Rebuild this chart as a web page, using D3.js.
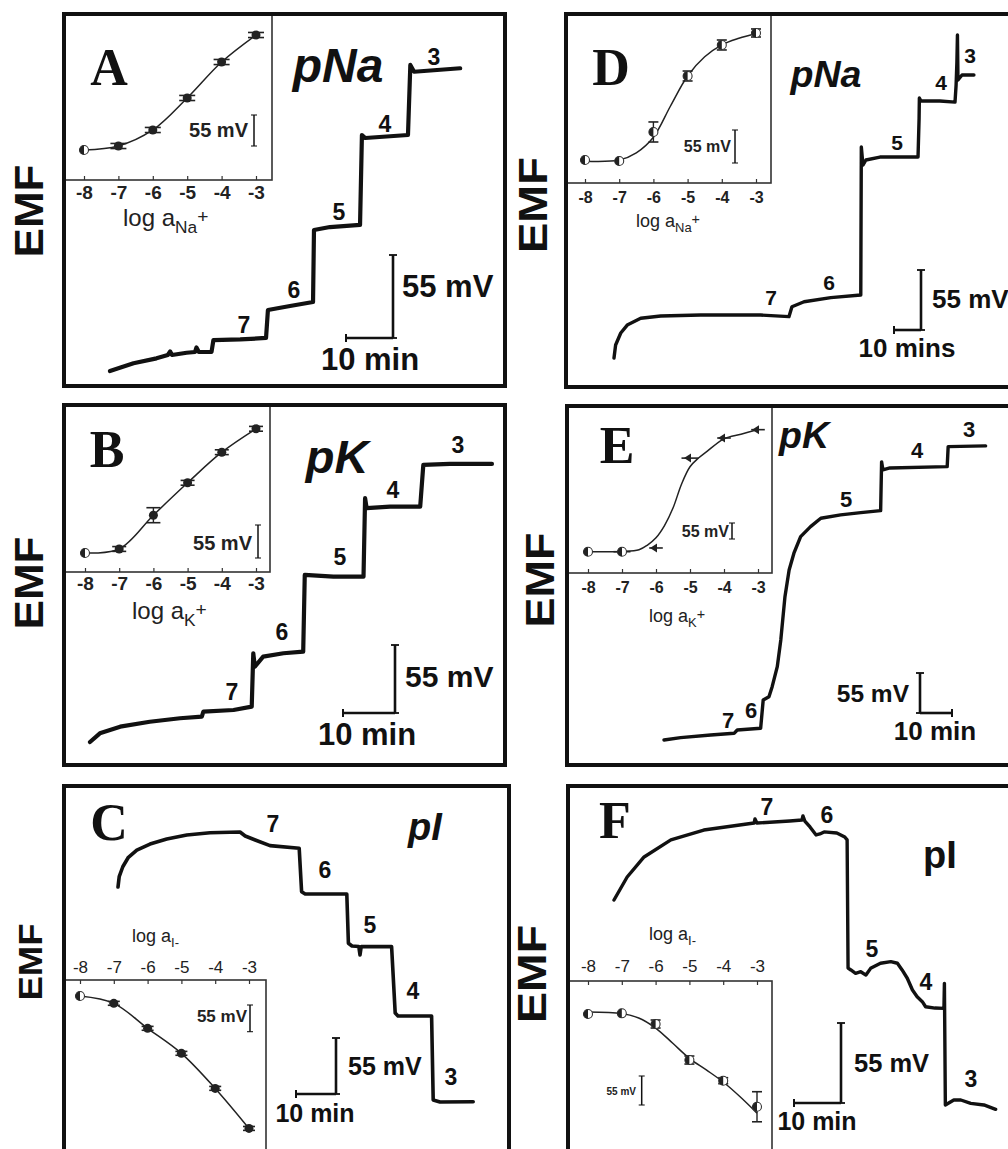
<!DOCTYPE html>
<html>
<head>
<meta charset="utf-8">
<script src="https://cdn.jsdelivr.net/npm/d3@7"></script>
<style>
  body { margin: 0; background: #fff; }
  svg { display: block; }
</style>
</head>
<body>
<svg id="fig" width="1008" height="1149"></svg>
<script>
// ---- data -------------------------------------------------------------
// log activity values used on every calibration inset
const logActivity = [-8, -7, -6, -5, -4, -3];
// p-values written beside the steps of each time trace
const stepNames = ["7", "6", "5", "4", "3"];

// time traces: [time (min), EMF (mV) relative to the start of the record]
const traceNa1 = [[0,0],[5.0,5.1],[9.9,8.4],[12.3,10.6],[12.8,12.9],[13.2,10.6],[16.3,12.1],[18.1,12.6],[18.4,15.6],[18.9,12.6],[21.6,12.6],[22.0,20.5],[27.7,20.9],[33.2,21.9],[33.6,40.4],[38.3,43.1],[43.2,45.7],[43.4,93.4],[46.8,95.4],[53.2,96.8],[53.6,156.4],[54.3,154.4],[63.4,156.4],[63.9,202.8],[64.7,198.3],[74.5,200.6]];
const traceK1 = [[0,0],[1.9,7.0],[5.8,12.4],[11.5,16.4],[17.3,19.2],[21.5,20.5],[21.8,24.5],[27.6,25.9],[31.1,28.6],[31.4,71.8],[31.7,60.9],[33.3,69.0],[37.2,71.8],[41.0,73.1],[41.3,135.1],[46.8,133.7],[52.6,133.7],[52.9,197.2],[53.2,189.1],[57.7,190.4],[63.5,190.4],[64.1,224.1],[69.2,224.9],[77.3,224.9]];
const traceI1 = [[0,0],[0.3,10.1],[1.2,19.9],[2.6,29.2],[4.7,36.3],[8,42.2],[12.2,47.2],[17.2,51.1],[23,53.3],[30.5,54.0],[31.8,50.1],[34.3,46.2],[38,40.6],[45.3,38.0],[45.9,-4.6],[46.8,-6.9],[57.2,-6.9],[57.6,-55.3],[58.5,-58.0],[60.2,-58.5],[60.5,-66.8],[60.8,-58.5],[68.4,-58.6],[69.3,-123.8],[70,-126.7],[78.4,-126.7],[78.8,-209.2],[80.5,-211.2],[88.8,-210.9]];
const traceNa2 = [[0,0],[0.6,11.9],[2.5,22.9],[4.9,30.2],[9.9,36.4],[17.3,38.5],[32.1,39.4],[54.3,39.4],[64.8,37.9],[65.9,47.0],[70.4,51.6],[80.3,55.3],[91.4,57.7],[91.6,193.4],[92.2,176.9],[93.3,181.5],[98.5,184.2],[112.6,184.2],[113.0,219.9],[113.1,238.3],[113.7,235.6],[120.7,235.6],[126.3,234.6],[126.7,250.2],[127.0,271.3],[127.2,296.1],[127.4,254.8],[128.9,259.4],[133.3,259.4]];
const traceK2 = [[0,0],[5.2,3.2],[14.6,6.9],[21.9,9.2],[22.9,13.8],[30.2,16.1],[31.0,55.0],[32.8,59.6],[33.8,73.3],[35.4,100.8],[36.5,137.6],[37.8,197.1],[39.1,233.8],[40.6,256.8],[42.7,279.7],[45.8,293.4],[49.0,304.9],[55.2,309.5],[61.5,312.7],[67.7,315.4],[68.0,382.4],[68.4,371.4],[70.6,374.1],[88.5,375.9],[88.8,403.4],[100.5,404.4]];
const traceI2 = [[0,0],[2.8,15.8],[6.4,29.6],[12.1,41.3],[19.1,48.1],[29.8,52.9],[30.0,55.7],[30.4,52.9],[37.4,54.3],[40.0,55.0],[40.2,57.8],[40.6,54.3],[41.7,50.2],[43.0,44.7],[43.8,45.4],[44.7,46.8],[47.4,46.1],[49.1,43.3],[49.6,41.3],[49.8,-46.8],[50.4,-48.1],[51.4,-50.4],[52.5,-49.3],[53.6,-51.6],[54.6,-47.0],[56.7,-43.5],[58.9,-42.4],[60.3,-43.5],[61.3,-48.1],[62.4,-53.8],[63.5,-61.9],[64.5,-66.5],[65.6,-69.9],[66.3,-73.4],[68.3,-74.3],[70.2,-74.5],[70.3,-57.3],[70.5,-140.9],[72.3,-137.5],[73.8,-137.5],[75.9,-139.8],[78.7,-140.9],[81.2,-143.9]];

// calibration insets: mean EMF (mV, relative to log a = -8) and spread
const calNa1 = [0, 7.1, 35.5, 92.3, 156.1, 204.0];
const calNa1Err = [0, 4.5, 4.5, 4.5, 4.5, 4.5];
const calK1 = [0, 6.7, 63, 117, 168, 207];
const calK1Err = [0, 4, 12.5, 4, 4, 4];
const calI1 = [0, -15.1, -66.6, -118.1, -190.3, -272.8];
const calI1Err = [0, 4, 4, 4, 4, 4];
const calNa2 = [0, -1.7, 46.7, 140, 191.7, 211.7];
const calNa2Err = [0, 0, 16.7, 8.3, 8.3, 6.7];
const calK2 = [0, 0, 12.8, 321.7, 390.8, 419.5];
const calK2ErrLog = [0, 0.25, 0.2, 0.25, 0.2, 0.2];   // spread along log a
const calI2 = [0, 1.3, -19, -87.3, -126.5, -175.9];
const calI2Err = [0, 0, 7.6, 7.6, 5.7, 28.5];

// fitted response curves: [log a, EMF (mV)]
const fitNa2 = [[-8,-2],[-7,0],[-6.5,12],[-6,38],[-5.5,90],[-5,140],[-4.5,172],[-4,192],[-3.5,203],[-3,211]];
const fitK2 = [[-8,0],[-7,1],[-6.5,7],[-6.25,23],[-6,48],[-5.75,90],[-5.5,150],[-5.25,232],[-5,292],[-4.75,322],[-4.5,345],[-4,388],[-3.5,404],[-3,420]];
const fitI2 = [[-8,4],[-7,1],[-6.5,-7.6],[-6,-26.6],[-5.5,-55],[-5,-84],[-4.5,-106],[-4,-129],[-3.5,-157],[-3,-188]];

// ---- layout ------------------------------------------------------------
const SANS = "'Liberation Sans', Arial, Helvetica, sans-serif";
const SERIF = "'Liberation Serif', 'Times New Roman', serif";
const INK = "#111";

const panels = [
  { letter: ["A", 109, 85], title: ["pNa", 338, 82, 48, true], emf: [29, 211, 93, 40],
    box: [64, 14, 505, 386], trace: traceNa1, x0: 110, y0: 371, barX: 47, barY: 83, lw: 4.2,
    bar: [393, 338, -1], steps: [[244,333],[294,298],[339,220],[385,132],[434,65]], stepSize: 23,
    mv: [402, 297, 31, "start"], min: ["10 min", 370, 370, 31],
    inset: { box: [64, 14, 272, 180], xr: [84, 256], y0: 150, bar: 31, side: "bottom", tickSize: 19, tickBase: 199, tickWeight: 600,
      mean: calNa1, err: calNa1Err, mark: "filled", capW: 16, sbar: [254, 146], stext: [248, 137, 20],
      log: [123, 226, 24, "Na", "+"] } },
  { letter: ["B", 107, 467], title: ["pK", 337, 473, 47, true], emf: [29, 583, 93, 40],
    box: [64, 405, 505, 765], trace: traceK1, x0: 90, y0: 742, barX: 52, barY: 68, lw: 4.2,
    bar: [395, 713, -1], steps: [[232,700],[282,640],[340,565],[393,498],[458,453]], stepSize: 23,
    mv: [405, 687, 30, "start"], min: ["10 min", 367, 745, 31],
    inset: { box: [64, 405, 270, 572], xr: [85, 256], y0: 553, bar: 33, side: "bottom", tickSize: 19, tickBase: 590, tickWeight: 600,
      mean: calK1, err: calK1Err, mark: "filled", capW: 14, sbar: [258, 558], stext: [252, 550, 20],
      log: [132, 619, 24, "K", "+"] } },
  { letter: ["C", 109, 840], title: ["pI", 425, 840, 38, true], emf: [30, 962, 77, 34],
    box: [64, 786, 509, 1170], trace: traceI1, x0: 118, y0: 887, barX: 40, barY: 56, lw: 3.6,
    bar: [336, 1094, -1], steps: [[273,832],[325,878],[370,933],[413,999],[451,1085]], stepSize: 23,
    mv: [348, 1075, 25, "start"], min: ["10 min", 315, 1122, 25],
    inset: { box: [64, 980, 266, 1170], xr: [80, 249], y0: 996, bar: 26.7, side: "top", tickSize: 17, tickBase: 973, tickWeight: 400,
      mean: calI1, err: calI1Err, mark: "filled", capW: 12, sbar: [250, 1031.7], stext: [247, 1022, 17],
      log: [132, 942, 18, "I-", ""] } },
  { letter: ["D", 611, 85], title: ["pNa", 826, 87, 37.6, true], emf: [533, 205, 96, 40],
    box: [566, 14, 1015, 387], trace: traceNa2, x0: 614, y0: 358, barX: 27, barY: 60, lw: 3.4,
    bar: [921, 330, -1], steps: [[771,305],[829,290],[897,150],[941,90],[970,63]], stepSize: 21,
    mv: [932, 308, 26, "start"], min: ["10 mins", 907, 357, 26],
    inset: { box: [566, 14, 771, 183], xr: [585, 756], y0: 160, bar: 33, side: "bottom", tickSize: 16, tickBase: 203, tickWeight: 600,
      mean: calNa2, err: calNa2Err, fit: fitNa2, mark: "half", capW: 10, sbar: [735, 163], stext: [731, 152, 16],
      log: [636, 227, 18, "Na", "+"] } },
  { letter: ["E", 617, 463], title: ["pK", 804, 448, 37.5, true], emf: [540, 580, 95, 40],
    box: [567, 406, 1015, 765], trace: traceK2, x0: 664, y0: 740, barX: 32, barY: 40, lw: 3.4,
    bar: [920, 713, 1], steps: [[728,728],[751,718],[846,507],[917,458],[969,437]], stepSize: 22,
    mv: [909, 702, 24.5, "end"], min: ["10 min", 935, 740, 26],
    inset: { box: [567, 406, 772, 573], xr: [588, 758], y0: 551.7, bar: 16, side: "bottom", tickSize: 16, tickBase: 593, tickWeight: 600,
      mean: calK2, xerr: calK2ErrLog, fit: fitK2, mark: "arrow", capW: 6, sbar: [732, 539], stext: [729, 537, 16],
      log: [649, 622, 18, "K", "+"] } },
  { letter: ["F", 615, 838], title: ["pI", 940, 868, 38, false], emf: [532, 974, 98, 40],
    box: [568, 786, 1015, 1170], trace: traceI2, x0: 614, y0: 900, barX: 47, barY: 80, lw: 3.4,
    bar: [841, 1103, -1], steps: [[767,815],[827,823],[872,957],[926,990],[971,1087]], stepSize: 23,
    mv: [854, 1072, 25.5, "start"], min: ["10 min", 817, 1130, 25],
    inset: { box: [568, 981, 772, 1170], xr: [588, 757], y0: 1014, bar: 29, side: "top", tickSize: 17, tickBase: 972, tickWeight: 400,
      mean: calI2, err: calI2Err, fit: fitI2, mark: "half", capW: 10, sbar: [641.7, 1105], stext: [636, 1095, 10],
      log: [649, 940, 18, "I-", ""] } }
];

const svg = d3.select("#fig");

function txt(g, s, x, y, size, opts = {}) {
  const t = g.append("text")
    .attr("x", x).attr("y", y)
    .attr("font-family", opts.family || SANS)
    .attr("font-size", size)
    .attr("font-weight", opts.weight || "bold")
    .attr("font-style", opts.italic ? "italic" : "normal")
    .attr("text-anchor", opts.anchor || "middle")
    .attr("fill", opts.fill || INK)
    .text(s);
  return t;
}

// vertical scale bar with small end caps
function vBar(g, x, yBottom, len, cap, w) {
  g.append("line").attr("x1", x).attr("x2", x).attr("y1", yBottom).attr("y2", yBottom - len)
    .attr("stroke", INK).attr("stroke-width", w);
  [yBottom, yBottom - len].forEach(yy => g.append("line")
    .attr("x1", x - cap / 2).attr("x2", x + cap / 2).attr("y1", yy).attr("y2", yy)
    .attr("stroke", INK).attr("stroke-width", Math.max(1, w * 0.7)));
}

function drawInset(g, ins) {
  const [bx1, by1, bx2, by2] = ins.box;
  const xs = d3.scaleLinear().domain([-8, -3]).range(ins.xr);
  const ys = d3.scaleLinear().domain([0, 55]).range([ins.y0, ins.y0 - ins.bar]);

  g.append("rect").attr("x", bx1).attr("y", by1).attr("width", bx2 - bx1).attr("height", by2 - by1)
    .attr("fill", "#fff").attr("stroke", "#333").attr("stroke-width", 1.6);

  // log a axis
  const fs = ins.tickSize;
  const axis = (ins.side === "bottom" ? d3.axisBottom(xs) : d3.axisTop(xs))
    .tickValues(logActivity).tickFormat(d => String(d))
    .tickSizeInner(-4).tickSizeOuter(0);
  if (ins.side === "bottom") axis.tickPadding(ins.tickBase - by2 - 0.71 * fs);
  else axis.tickPadding(by1 - ins.tickBase);
  const ag = g.append("g").attr("transform", `translate(0,${ins.side === "bottom" ? by2 : by1})`).call(axis);
  ag.select(".domain").remove();
  ag.selectAll(".tick line").attr("stroke", "#333").attr("stroke-width", 1.2);
  ag.selectAll(".tick text").attr("font-family", SANS).attr("font-size", fs)
    .attr("font-weight", ins.tickWeight).attr("fill", "#222");

  // response curve
  const curvePts = ins.fit ? ins.fit : logActivity.map((v, i) => [v, ins.mean[i]]);
  g.append("path")
    .attr("d", d3.line().x(d => xs(d[0])).y(d => ys(d[1])).curve(d3.curveCatmullRom.alpha(0.5))(curvePts))
    .attr("fill", "none").attr("stroke", "#222").attr("stroke-width", 1.5);

  // calibration points
  logActivity.forEach((v, i) => {
    const cx = xs(v), cy = ys(ins.mean[i]);
    if (ins.err && ins.err[i] > 0) {
      const yTop = ys(ins.mean[i] + ins.err[i]), yBot = ys(ins.mean[i] - ins.err[i]);
      g.append("line").attr("x1", cx).attr("x2", cx).attr("y1", yTop).attr("y2", yBot)
        .attr("stroke", "#222").attr("stroke-width", 1.4);
      [yTop, yBot].forEach(yy => g.append("line")
        .attr("x1", cx - ins.capW / 2).attr("x2", cx + ins.capW / 2).attr("y1", yy).attr("y2", yy)
        .attr("stroke", "#222").attr("stroke-width", 1.6));
    }
    if (ins.xerr && ins.xerr[i] > 0) {
      g.append("line").attr("x1", xs(v - ins.xerr[i])).attr("x2", xs(v + ins.xerr[i]))
        .attr("y1", cy).attr("y2", cy).attr("stroke", "#222").attr("stroke-width", 1.6);
    }
    const r = 4.5;
    if (ins.mark === "filled" && i > 0) {
      g.append("circle").attr("cx", cx).attr("cy", cy).attr("r", r).attr("fill", "#222");
    } else if (ins.mark === "arrow" && i > 1) {
      g.append("path").attr("d", `M${cx - 6},${cy}L${cx + 1},${cy - 4.5}L${cx + 1},${cy + 4.5}Z`).attr("fill", "#222");
    } else {
      g.append("circle").attr("cx", cx).attr("cy", cy).attr("r", r)
        .attr("fill", "#fff").attr("stroke", "#333").attr("stroke-width", 1.1);
      g.append("path").attr("d", `M${cx},${cy - r}A${r},${r} 0 0 0 ${cx},${cy + r}Z`).attr("fill", "#222");
    }
  });

  // 55 mV bar
  vBar(g, ins.sbar[0], ins.sbar[1], ys(0) - ys(55), 6, 1.5);
  txt(g, "55 mV", ins.stext[0], ins.stext[1], ins.stext[2], { anchor: "end", weight: 600, fill: "#222" });

  // log a label with subscript
  const [lx, ly, lfs, sub, sup] = ins.log;
  const lt = g.append("text").attr("x", lx).attr("y", ly)
    .attr("font-family", SANS).attr("font-size", lfs).attr("font-weight", 500).attr("fill", "#222");
  lt.append("tspan").text("log a");
  lt.append("tspan").attr("dy", lfs * 0.28).attr("font-size", lfs * 0.72).text(sub);
  if (sup) lt.append("tspan").attr("dy", -lfs * 0.42).attr("font-size", lfs * 0.8).text(sup);
}

panels.forEach(p => {
  const g = svg.append("g");
  drawInset(g, p.inset);

  const [x1, y1, x2, y2] = p.box;
  g.append("rect").attr("x", x1).attr("y", y1).attr("width", x2 - x1).attr("height", y2 - y1)
    .attr("fill", "none").attr("stroke", INK).attr("stroke-width", 4);

  // time trace
  const x = d3.scaleLinear().domain([0, 10]).range([p.x0, p.x0 + p.barX]);
  const y = d3.scaleLinear().domain([0, 55]).range([p.y0, p.y0 - p.barY]);
  g.append("path")
    .attr("d", d3.line().x(d => x(d[0])).y(d => y(d[1]))(p.trace))
    .attr("fill", "none").attr("stroke", INK).attr("stroke-width", p.lw)
    .attr("stroke-linejoin", "round").attr("stroke-linecap", "round");

  // 55 mV / 10 min scale bars
  const [bx, bBottom, dir] = p.bar;
  vBar(g, bx, bBottom, y(0) - y(55), 8, 2.6);
  const hLen = x(10) - x(0);
  g.append("line").attr("x1", bx).attr("x2", bx + dir * hLen).attr("y1", bBottom).attr("y2", bBottom)
    .attr("stroke", INK).attr("stroke-width", 2.6);
  g.append("line").attr("x1", bx + dir * hLen).attr("x2", bx + dir * hLen).attr("y1", bBottom - 4).attr("y2", bBottom + 4)
    .attr("stroke", INK).attr("stroke-width", 2);
  txt(g, "55 mV", p.mv[0], p.mv[1], p.mv[2], { anchor: p.mv[3] });
  txt(g, p.min[0], p.min[1], p.min[2], p.min[3]);

  // step labels
  p.steps.forEach((s, i) => txt(g, stepNames[i], s[0], s[1], p.stepSize));

  // headings
  const [tt, tx, ty, tfs, tit] = p.title;
  txt(g, tt, tx, ty, tfs, { italic: tit });
  txt(g, p.letter[0], p.letter[1], p.letter[2], 52, { family: SERIF });
  const [ex, ey, elen, efs] = p.emf;
  svg.append("text").attr("transform", `translate(${ex},${ey}) rotate(-90)`)
    .attr("text-anchor", "middle").attr("dominant-baseline", "central")
    .attr("font-family", SANS).attr("font-weight", "bold").attr("font-size", efs)
    .attr("textLength", elen).attr("lengthAdjust", "spacingAndGlyphs")
    .attr("fill", INK).text("EMF");
});
</script>
</body>
</html>
